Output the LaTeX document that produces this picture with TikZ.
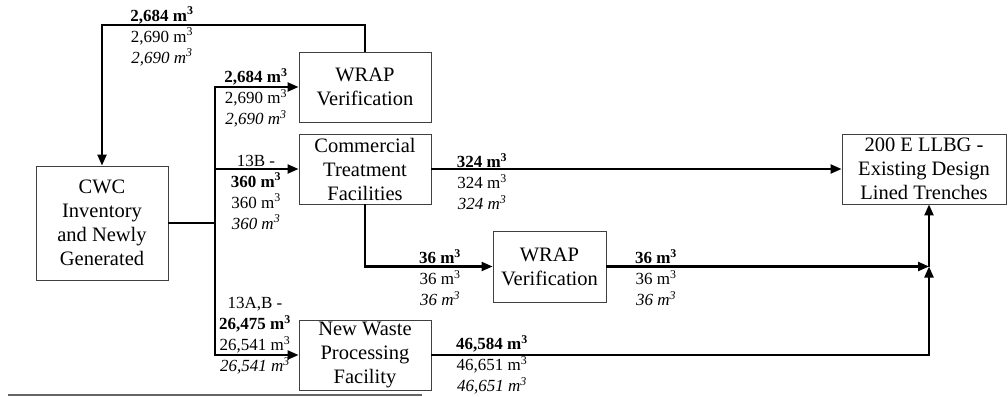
\documentclass[tikz,border=0pt]{standalone}
\usepackage{fontspec}
\setmainfont{Liberation Serif}
\usetikzlibrary{arrows.meta}
\newcommand{\cub}{m\textsuperscript{3}}

\begin{document}
\begin{tikzpicture}[
  x=1pt, y=-1pt,
  box/.style={draw=black!75, line width=0.9pt, align=center, inner sep=0pt,
              minimum width=132pt, minimum height=70pt,
              font=\fontsize{20.5}{24}\selectfont},
  vol/.style={align=center, inner sep=0pt, font=\fontsize{17}{21}\selectfont},
  link/.style={line width=2.2pt},
  flow/.style={-{Triangle[length=11pt,width=9pt]}, line width=2.2pt}
]
\useasboundingbox (0,0) rectangle (1008,396);

\node[box, minimum height=114pt] (cwc) at (102,223) {CWC\\Inventory\\and Newly\\Generated};
\node[box] (wrapA) at (365,87) {WRAP\\Verification};
\node[box] (ctf) at (365,169) {Commercial\\Treatment\\Facilities};
\node[box] (nwpf) at (365,355) {New Waste\\Processing\\Facility};
\node[box, minimum width=113pt, minimum height=71pt] (wrapB) at (549.5,266.5) {WRAP\\Verification};
\node[box, minimum width=164pt] (llbg) at (924,169) {200 E LLBG -\\Existing Design\\Lined Trenches};

\coordinate (loop) at (230,25);
\coordinate (split) at (215,223);
\coordinate (merge) at (929,266.5);

\node[vol] (qLoop) at (162,36.5) {\textbf{2,684 \cub}\\2,690 \cub\\\textit{2,690 \cub}};
\node[vol] (qWrapA) at (256,98) {\textbf{2,684 \cub}\\2,690 \cub\\\textit{2,690 \cub}};
\node[vol] (qCtf) at (256,192) {13B -\\\textbf{360 \cub}\\360 \cub\\\textit{360 \cub}};
\node[vol] (qNwpf) at (255,336) {13A,B -\\\textbf{26,475 \cub}\\26,541 \cub\\\textit{26,541 \cub}};
\node[vol] (qCtfOut) at (482,181.5) {\textbf{324 \cub}\\324 \cub\\\textit{324 \cub}};
\node[vol] (qToWrapB) at (440,277.5) {\textbf{36 \cub}\\36 \cub\\\textit{36 \cub}};
\node[vol] (qFromWrapB) at (656,277.5) {\textbf{36 \cub}\\36 \cub\\\textit{36 \cub}};
\node[vol] (qNwpfOut) at (492,365) {\textbf{46,584 \cub}\\46,651 \cub\\\textit{46,651 \cub}};

\draw[flow] (wrapA.north) |- (loop) -| (cwc.north);
\draw[link] (cwc.east) -- (split);
\draw[flow] (split) |- (wrapA.west);
\draw[flow] (split) |- (ctf.west);
\draw[flow] (split) |- (nwpf.west);
\draw[flow] (ctf.east) -- (llbg.west);
\draw[flow] (ctf.south) |- (wrapB.west);
\draw[flow] (wrapB.east) -- (merge);
\draw[flow] (nwpf.east) -| (merge);
\draw[flow] (merge) -- (merge |- llbg.south);

% cut-off rule at the foot
\draw[black!60, line width=2pt] (8,395) -- (422,395);
\end{tikzpicture}
\end{document}
